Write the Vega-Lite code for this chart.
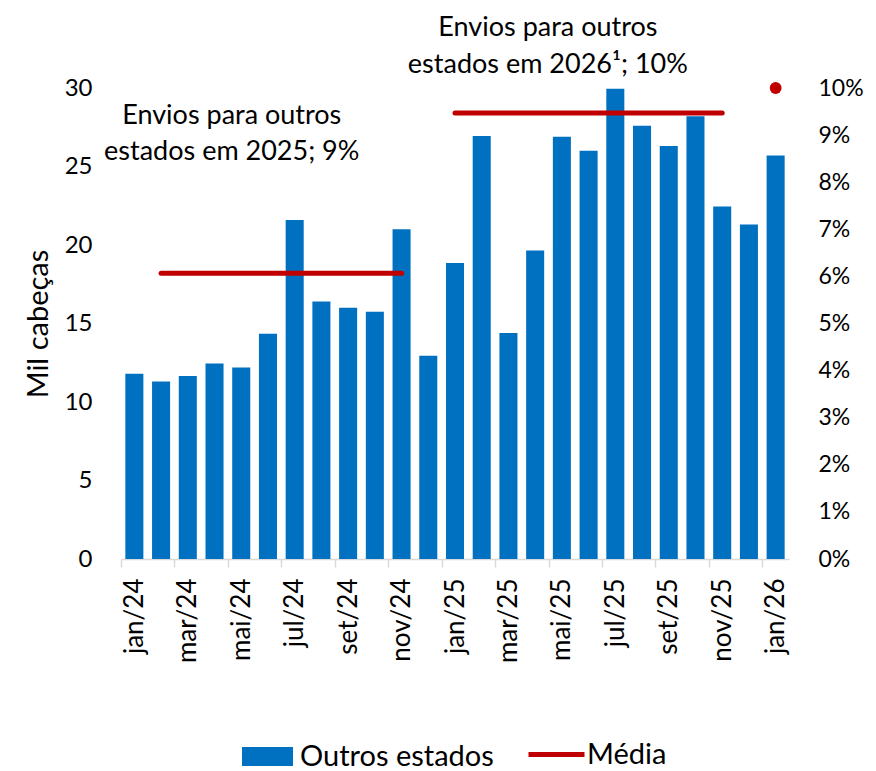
{
  "$schema": "https://vega.github.io/schema/vega-lite/v6.json",
  "autosize": {"type": "none"},
  "padding": {"left": 121, "top": 88, "right": 87, "bottom": 212},
  "width": 668,
  "height": 471,
  "background": "white",
  "config": {
    "font": "Lato",
    "view": {"stroke": null},
    "axis": {"labelColor": "#000000", "titleColor": "#000000", "grid": false, "labelFont": "Lato", "titleFont": "Lato"},
    "legend": {"labelColor": "#000000", "labelFont": "Lato"}
  },
  "datasets": {
    "barras": [
      {"mes": "jan/24", "valor": 11.8, "serie": "Outros estados"},
      {"mes": "fev/24", "valor": 11.3, "serie": "Outros estados"},
      {"mes": "mar/24", "valor": 11.65, "serie": "Outros estados"},
      {"mes": "abr/24", "valor": 12.45, "serie": "Outros estados"},
      {"mes": "mai/24", "valor": 12.2, "serie": "Outros estados"},
      {"mes": "jun/24", "valor": 14.35, "serie": "Outros estados"},
      {"mes": "jul/24", "valor": 21.6, "serie": "Outros estados"},
      {"mes": "ago/24", "valor": 16.4, "serie": "Outros estados"},
      {"mes": "set/24", "valor": 16.0, "serie": "Outros estados"},
      {"mes": "out/24", "valor": 15.75, "serie": "Outros estados"},
      {"mes": "nov/24", "valor": 21.0, "serie": "Outros estados"},
      {"mes": "dez/24", "valor": 12.95, "serie": "Outros estados"},
      {"mes": "jan/25", "valor": 18.85, "serie": "Outros estados"},
      {"mes": "fev/25", "valor": 26.95, "serie": "Outros estados"},
      {"mes": "mar/25", "valor": 14.4, "serie": "Outros estados"},
      {"mes": "abr/25", "valor": 19.65, "serie": "Outros estados"},
      {"mes": "mai/25", "valor": 26.9, "serie": "Outros estados"},
      {"mes": "jun/25", "valor": 26.0, "serie": "Outros estados"},
      {"mes": "jul/25", "valor": 29.95, "serie": "Outros estados"},
      {"mes": "ago/25", "valor": 27.6, "serie": "Outros estados"},
      {"mes": "set/25", "valor": 26.3, "serie": "Outros estados"},
      {"mes": "out/25", "valor": 28.2, "serie": "Outros estados"},
      {"mes": "nov/25", "valor": 22.45, "serie": "Outros estados"},
      {"mes": "dez/25", "valor": 21.3, "serie": "Outros estados"},
      {"mes": "jan/26", "valor": 25.7, "serie": "Outros estados"}
    ],
    "media": [
      {"mes": "fev/24", "media": 18.2, "serie": "Média", "grupo": "2024"},
      {"mes": "mar/24", "media": 18.2, "serie": "Média", "grupo": "2024"},
      {"mes": "abr/24", "media": 18.2, "serie": "Média", "grupo": "2024"},
      {"mes": "mai/24", "media": 18.2, "serie": "Média", "grupo": "2024"},
      {"mes": "jun/24", "media": 18.2, "serie": "Média", "grupo": "2024"},
      {"mes": "jul/24", "media": 18.2, "serie": "Média", "grupo": "2024"},
      {"mes": "ago/24", "media": 18.2, "serie": "Média", "grupo": "2024"},
      {"mes": "set/24", "media": 18.2, "serie": "Média", "grupo": "2024"},
      {"mes": "out/24", "media": 18.2, "serie": "Média", "grupo": "2024"},
      {"mes": "nov/24", "media": 18.2, "serie": "Média", "grupo": "2024"},
      {"mes": "jan/25", "media": 28.4, "serie": "Média", "grupo": "2025"},
      {"mes": "fev/25", "media": 28.4, "serie": "Média", "grupo": "2025"},
      {"mes": "mar/25", "media": 28.4, "serie": "Média", "grupo": "2025"},
      {"mes": "abr/25", "media": 28.4, "serie": "Média", "grupo": "2025"},
      {"mes": "mai/25", "media": 28.4, "serie": "Média", "grupo": "2025"},
      {"mes": "jun/25", "media": 28.4, "serie": "Média", "grupo": "2025"},
      {"mes": "jul/25", "media": 28.4, "serie": "Média", "grupo": "2025"},
      {"mes": "ago/25", "media": 28.4, "serie": "Média", "grupo": "2025"},
      {"mes": "set/25", "media": 28.4, "serie": "Média", "grupo": "2025"},
      {"mes": "out/25", "media": 28.4, "serie": "Média", "grupo": "2025"},
      {"mes": "nov/25", "media": 28.4, "serie": "Média", "grupo": "2025"}
    ],
    "pct": [
      {"mes": "jan/26", "pct": 0.1}
    ],
    "nota2025": [
      {"mes": "mai/24", "y": 27.7, "texto": "Envios para outros\nestados em 2025; 9%"}
    ],
    "nota2026": [
      {"mes": "mai/25", "y": 33.3, "texto": "Envios para outros\nestados em 2026¹; 10%"}
    ]
  },
  "encoding": {
    "x": {
      "field": "mes",
      "type": "nominal",
      "sort": null,
      "scale": {
        "domain": ["jan/24","fev/24","mar/24","abr/24","mai/24","jun/24","jul/24","ago/24","set/24","out/24","nov/24","dez/24","jan/25","fev/25","mar/25","abr/25","mai/25","jun/25","jul/25","ago/25","set/25","out/25","nov/25","dez/25","jan/26"],
        "paddingInner": 0.325,
        "paddingOuter": 0.1625
      },
      "axis": {
        "title": null,
        "values": ["jan/24","mar/24","mai/24","jul/24","set/24","nov/24","jan/25","mar/25","mai/25","jul/25","set/25","nov/25","jan/26"],
        "labelAngle": -90,
        "labelFontSize": 26,
        "labelPadding": 11,
        "bandPosition": 0,
        "tickOffset": -4.3,
        "labelOffset": 4.3,
        "tickSize": 8,
        "tickColor": "#D9D9D9",
        "tickWidth": 1.5,
        "domainColor": "#D9D9D9",
        "domainWidth": 1.5
      }
    }
  },
  "layer": [
    {
      "layer": [
        {
          "data": {"name": "barras"},
          "mark": {"type": "bar"},
          "encoding": {
            "y": {
              "field": "valor",
              "type": "quantitative",
              "scale": {"domain": [0, 30], "nice": false},
              "axis": {
                "title": "Mil cabeças",
                "values": [0, 5, 10, 15, 20, 25, 30],
                "domain": false,
                "ticks": false,
                "labelPadding": 29,
                "labelFontSize": 24,
                "titleFontSize": 29,
                "titleFontWeight": "normal",
                "titlePadding": 11
              }
            },
            "fill": {
              "field": "serie",
              "type": "nominal",
              "scale": {"domain": ["Outros estados"], "range": ["#0070C0"]},
              "legend": {
                "orient": "none",
                "legendX": 121,
                "legendY": 643,
                "title": null,
                "symbolType": "M-1,-0.37H1V0.37H-1Z",
                "symbolSize": 2601,
                "symbolStrokeWidth": 0,
                "labelFontSize": 29,
                "labelOffset": 7,
                "labelLimit": 600,
                "padding": 0
              }
            }
          }
        },
        {
          "data": {"name": "media"},
          "mark": {"type": "line", "strokeWidth": 5, "strokeCap": "round"},
          "encoding": {
            "y": {"field": "media", "type": "quantitative"},
            "detail": {"field": "grupo"},
            "stroke": {
              "field": "serie",
              "type": "nominal",
              "scale": {"domain": ["Média"], "range": ["#C00000"]},
              "legend": {
                "orient": "none",
                "legendX": 405,
                "legendY": 636,
                "title": null,
                "symbolType": "stroke",
                "symbolSize": 3136,
                "symbolStrokeWidth": 5,
                "labelFontSize": 29,
                "labelOffset": 0,
                "labelLimit": 600,
                "padding": 0
              }
            }
          }
        },
        {
          "data": {"name": "nota2025"},
          "mark": {"type": "text", "fontSize": 27, "lineBreak": "\n", "lineHeight": 36, "align": "center", "baseline": "alphabetic", "color": "#000000", "dx": -9.5},
          "encoding": {
            "y": {"field": "y", "type": "quantitative"},
            "text": {"field": "texto"}
          }
        },
        {
          "data": {"name": "nota2026"},
          "mark": {"type": "text", "fontSize": 27, "lineBreak": "\n", "lineHeight": 37, "align": "center", "baseline": "alphabetic", "color": "#000000", "dx": -14},
          "encoding": {
            "y": {"field": "y", "type": "quantitative"},
            "text": {"field": "texto"}
          }
        }
      ]
    },
    {
      "data": {"name": "pct"},
      "mark": {"type": "circle", "size": 140, "color": "#C00000", "opacity": 1},
      "encoding": {
        "y": {
          "field": "pct",
          "type": "quantitative",
          "scale": {"domain": [0, 0.1], "nice": false},
          "axis": {
            "orient": "right",
            "title": null,
            "format": ".0%",
            "values": [0, 0.01, 0.02, 0.03, 0.04, 0.05, 0.06, 0.07, 0.08, 0.09, 0.1],
            "domain": false,
            "ticks": false,
            "labelPadding": 29,
            "labelFontSize": 23
          }
        }
      }
    }
  ],
  "resolve": {"scale": {"y": "independent"}}
}
